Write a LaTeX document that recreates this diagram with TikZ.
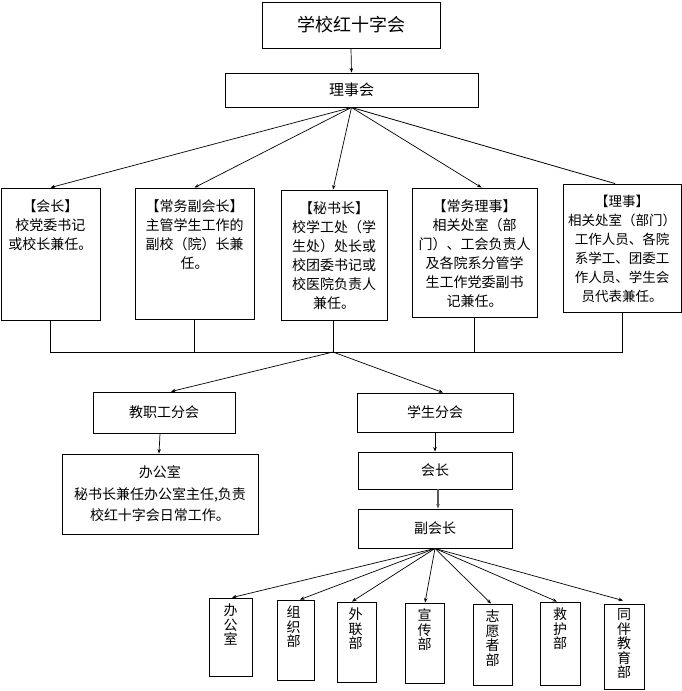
\documentclass[tikz,border=0pt]{standalone}
\usepackage{fontspec}
\setmainfont{Noto Sans CJK SC}
\usetikzlibrary{arrows.meta,calc}
\newcommand\myvstack[1]{\vbox{\baselineskip=14.5pt\lineskiplimit=-100pt\lineskip=0pt\halign{\hfil##\hfil\cr#1\crcr}}}
\begin{document}
\begin{tikzpicture}[x=1pt,y=-1pt,
  bx/.style={draw, line width=0.9pt, inner sep=0pt, font=\fontsize{14}{19}\selectfont},
  tx/.style={inner sep=0pt, align=center, anchor=north, font=\fontsize{14}{19}\selectfont},
  vt/.style={inner sep=0pt, anchor=north, font=\fontsize{14}{14.5}\selectfont},
  arr/.style={line width=0.7pt, -{Stealth[length=4.5pt,width=3.5pt]}},
  ln/.style={line width=0.8pt}]
\useasboundingbox (0,0) rectangle (682,691);

% top levels
\node[bx, minimum width=178, minimum height=46, font=\fontsize{18}{20}\selectfont] (top) at (351,25) {学校红十字会};
\node[bx, minimum width=253, minimum height=34, font=\fontsize{15}{18}\selectfont] (lsh) at (351.5,90) {理事会};

% five council boxes
\node[bx, minimum width=99,  minimum height=132] (hz)    at (50.5,254) {};
\node[bx, minimum width=119, minimum height=131] (cwfhz) at (194.5,253.5) {};
\node[bx, minimum width=106, minimum height=130] (msz)   at (334,255) {};
\node[bx, minimum width=125, minimum height=129] (cwls)  at (474.5,252.5) {};
\node[bx, minimum width=118, minimum height=128] (ls)    at (622,248) {};

\node[tx] at ([yshift=-12pt]hz.north) {【会长】\\校党委书记\\或校长兼任。};
\node[tx] at ([yshift=-12pt]cwfhz.north) {【常务副会长】\\主管学生工作的\\副校（院）长兼\\任。};
\node[tx] at ([yshift=-12pt]msz.north) {【秘书长】\\校学工处（学\\生处）处长或\\校团委书记或\\校医院负责人\\兼任。};
\node[tx] at ([yshift=-12pt]cwls.north) {【常务理事】\\相关处室（部\\门）、工会负责人\\及各院系分管学\\生工作党委副书\\记兼任。};
\node[tx, font=\fontsize{13.5}{19}\selectfont] at ([yshift=-11pt]ls.north) {【理事】\\相关处室（部门）\\工作人员、各院\\系学工、团委工\\作人员、学生会\\员代表兼任。};

% branches
\node[bx, minimum width=142, minimum height=41] (jzg)  at (164,412.5) {教职工分会};
\node[bx, minimum width=156, minimum height=39] (xsfh) at (435,412.5) {学生分会};
\node[bx, minimum width=196, minimum height=80, align=center, font=\fontsize{14}{21.5}\selectfont] (bgs) at (160,494) {办公室\\秘书长兼任办公室主任,负责\\校红十字会日常工作。};
\node[bx, minimum width=154, minimum height=37] (xhz) at (435,470.5) {会长};
\node[bx, minimum width=154, minimum height=39] (fhz) at (435,528.5) {副会长};

% departments
\node[bx, minimum width=43, minimum height=78] (b1) at (230.5,637) {};
\node[bx, minimum width=37, minimum height=80] (b2) at (295.5,640) {};
\node[bx, minimum width=39, minimum height=80] (b3) at (356.5,642) {};
\node[bx, minimum width=39, minimum height=80] (b4) at (424.5,643) {};
\node[bx, minimum width=39, minimum height=81] (b5) at (492.5,644.5) {};
\node[bx, minimum width=40, minimum height=83] (b6) at (560,643.5) {};
\node[bx, minimum width=40, minimum height=85] (b7) at (624,646.5) {};

\node[vt] at ([yshift=-6pt]b1.north) {\myvstack{办\cr 公\cr 室}};
\node[vt] at ([xshift=-2pt,yshift=-6pt]b2.north) {\myvstack{组\cr 织\cr 部}};
\node[vt] at ([xshift=-1pt,yshift=-6pt]b3.north) {\myvstack{外\cr 联\cr 部}};
\node[vt] at ([yshift=-6pt]b4.north) {\myvstack{宣\cr 传\cr 部}};
\node[vt] at ([yshift=-6pt]b5.north) {\myvstack{志\cr 愿\cr 者\cr 部}};
\node[vt] at ([yshift=-6pt]b6.north) {\myvstack{救\cr 护\cr 部}};
\node[vt] at ([yshift=-5pt]b7.north) {\myvstack{同\cr 伴\cr 教\cr 育\cr 部}};

% connectors
\draw[arr] (top.south) -- (lsh.north);
\draw[arr] (lsh.south) -- (hz.north);
\draw[arr] (lsh.south) -- (cwfhz.north);
\draw[arr] (lsh.south) -- ([xshift=-1pt]msz.north);
\draw[arr] (lsh.south) -- ([xshift=7pt]cwls.north);
\draw[ln]  (lsh.south) -- ([xshift=-7pt]ls.north);

\coordinate (hub) at (333,352);
\draw[ln] (hz.south) -- (hz.south |- hub) -- (ls.south |- hub) -- (ls.south);
\draw[ln] (cwfhz.south) -- (cwfhz.south |- hub);
\draw[ln] ([xshift=-1pt]msz.south) -- ([xshift=-1pt]msz.south |- hub);
\draw[ln] (cwls.south) -- (cwls.south |- hub);

\draw[arr] (hub) -- ([xshift=7pt]jzg.north);
\draw[arr] (hub) -- ([xshift=8pt]xsfh.north);
\draw[arr] (jzg.south -| bgs.north) -- ([xshift=-1pt]bgs.north);
\draw[arr] (xsfh.south) -- (xhz.north);
\draw[arr, gray!70!black, line width=1.1pt] ([xshift=3pt]xhz.south) -- ([xshift=3pt]fhz.north);

\draw[arr] (fhz.south) -- ([xshift=1.5pt]b1.north);
\draw[arr] (fhz.south) -- ([xshift=4.5pt]b2.north);
\draw[arr] (fhz.south) -- ([xshift=-4.5pt]b3.north);
\draw[arr] (fhz.south) -- ([xshift=0.5pt]b4.north);
\draw[arr] (fhz.south) -- ([xshift=-1.5pt]b5.north);
\draw[arr] (fhz.south) -- ([xshift=-3pt]b6.north);
\draw[arr] (fhz.south) -- ([xshift=-1pt,yshift=3pt]b7.north);
\end{tikzpicture}
\end{document}
